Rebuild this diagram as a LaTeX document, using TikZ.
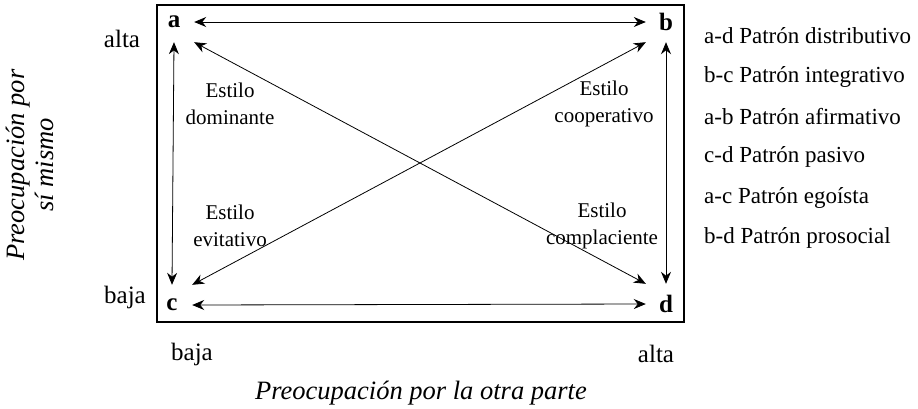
\documentclass[tikz,border=0pt]{standalone}
\usepackage{fontspec}
\setmainfont{Liberation Serif}
\usetikzlibrary{arrows.meta}
\tikzset{
  esquina/.style={minimum width=40pt, minimum height=40pt, inner sep=0pt, font=\fontsize{25}{30}\selectfont\bfseries},
  flecha/.style={{Stealth[length=12pt,width=10pt]}-{Stealth[length=12pt,width=10pt]}, line width=0.8pt},
  estilo/.style={align=center, inner sep=0pt, font=\fontsize{21}{27}\selectfont},
  nivel/.style={inner sep=0pt, font=\fontsize{25}{30}\selectfont},
  eje/.style={inner sep=0pt, align=center, font=\fontsize{26.5}{29}\selectfont\itshape},
  leyenda/.style={anchor=west, inner sep=0pt, font=\fontsize{23}{28}\selectfont},
}
\begin{document}
\begin{tikzpicture}[x=1pt, y=-1pt]
\useasboundingbox (0,0) rectangle (918,408);
% marco
\draw [line width=1.6pt] (157,5) rectangle (684,322);
% esquinas
\node [esquina] (a) at (174,22) {a};
\node [esquina] (b) at (666,22) {b};
\node [esquina] (c) at (172,305) {c};
\node [esquina] (d) at (666,304) {d};
% flechas
\draw [flecha] (a.east) -- (b.west);
\draw [flecha] (c.east) -- (d.west);
\draw [flecha] (a.south) -- (c.north);
\draw [flecha] (b.south) -- (d.north);
\draw [flecha] (a.south east) -- (d.north west);
\draw [flecha] (b.south west) -- (c.north east);
% estilos
\node [estilo] (dom) at (230,104) {Estilo\\dominante};
\node [estilo] (coop) at (604,104) {Estilo\\cooperativo};
\node [estilo] (evit) at (230,226) {Estilo\\evitativo};
\node [estilo] (comp) at (602,226) {Estilo\\complaciente};
% ejes
\node [nivel] (yalta) at (122,39) {alta};
\node [nivel] (ybaja) at (125,297) {baja};
\node [nivel] (xbaja) at (192,354) {baja};
\node [nivel] (xalta) at (656,354) {alta};
\node [eje] (ejex) at (421,393) {Preocupación por la otra parte};
\node [eje, rotate=90] (ejey) at (30,165) {Preocupación por\\sí mismo};
% leyenda
\node [leyenda] (ad) at (704,36) {a-d Patrón distributivo};
\node [leyenda] (bc) at (704,77) {b-c Patrón integrativo};
\node [leyenda] (ab) at (704,117) {a-b Patrón afirmativo};
\node [leyenda] (cd) at (704,157) {c-d Patrón pasivo};
\node [leyenda] (ac) at (704,198) {a-c Patrón egoísta};
\node [leyenda] (bd) at (704,238) {b-d Patrón prosocial};
\end{tikzpicture}
\end{document}
